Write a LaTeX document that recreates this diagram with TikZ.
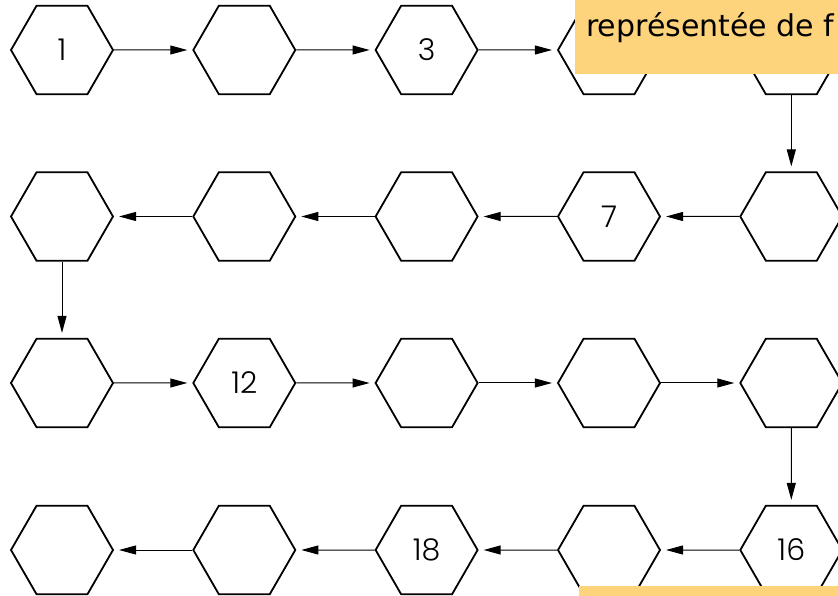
\documentclass[tikz,border=0pt]{standalone}
\usepackage{fontspec}
\setmainfont{Poppins Light}
\newfontfamily\boxfont{DejaVu Sans}
\usetikzlibrary{shapes.geometric,arrows.meta}
\definecolor{noteorange}{RGB}{253,212,124}
\begin{document}
\begin{tikzpicture}[x=1pt,y=1pt,
  hexa/.style={regular polygon, regular polygon sides=6, minimum size=102pt,
    inner sep=0pt, draw=black, line width=1.8pt, font=\fontsize{30}{30}\selectfont},
  link/.style={-{Triangle[length=17pt,width=9pt]}, line width=1pt, shorten >=5pt},
  notebox/.style={fill=noteorange, draw=none, inner sep=0pt, anchor=north west},
  notetext/.style={anchor=base west, inner sep=0pt, font=\boxfont\fontsize{30}{30}\selectfont}]
\clip (0,0) rectangle (838,595);
\fill[white] (0,0) rectangle (838,595);
% hexagons
\foreach \r/\c/\xx/\yy/\t in {
  1/1/62/545/1, 1/2/244.3/545/, 1/3/426.6/545/3, 1/4/609/545/, 1/5/791.3/545/,
  2/1/62/378.5/, 2/2/244.3/378.5/, 2/3/426.6/378.5/, 2/4/609/378.5/7, 2/5/791.3/378.5/,
  3/1/62/212/, 3/2/244.3/212/12, 3/3/426.6/212/, 3/4/609/212/, 3/5/791.3/212/,
  4/1/62/45/, 4/2/244.3/45/, 4/3/426.6/45/18, 4/4/609/45/, 4/5/791.3/45/16}{
  \node[hexa] (h\r\c) at (\xx,\yy) {\t};
}
% connectors
\draw[link] (h11.east) -- (h12.west);
\draw[link] (h12.east) -- (h13.west);
\draw[link] (h13.east) -- (h14.west);
\draw[link] (h14.east) -- (h15.west);
\draw[link] (h15.south) -- (h25.north);
\draw[link] (h25.west) -- (h24.east);
\draw[link] (h24.west) -- (h23.east);
\draw[link] (h23.west) -- (h22.east);
\draw[link] (h22.west) -- (h21.east);
\draw[link] (h21.south) -- (h31.north);
\draw[link] (h31.east) -- (h32.west);
\draw[link] (h32.east) -- (h33.west);
\draw[link] (h33.east) -- (h34.west);
\draw[link] (h34.east) -- (h35.west);
\draw[link] (h35.south) -- (h45.north);
\draw[link] (h45.west) -- (h44.east);
\draw[link] (h44.west) -- (h43.east);
\draw[link] (h43.west) -- (h42.east);
\draw[link] (h42.west) -- (h41.east);
% overlay notes
\node[notebox, minimum width=280pt, minimum height=80pt] (notetop) at (575,601) {};
\node[notetext] (notetoptext) at (586,558.3) {représentée de f};
\node[notebox, minimum width=280pt, minimum height=20pt] (notebottom) at (579,9) {};
\end{tikzpicture}
\end{document}
